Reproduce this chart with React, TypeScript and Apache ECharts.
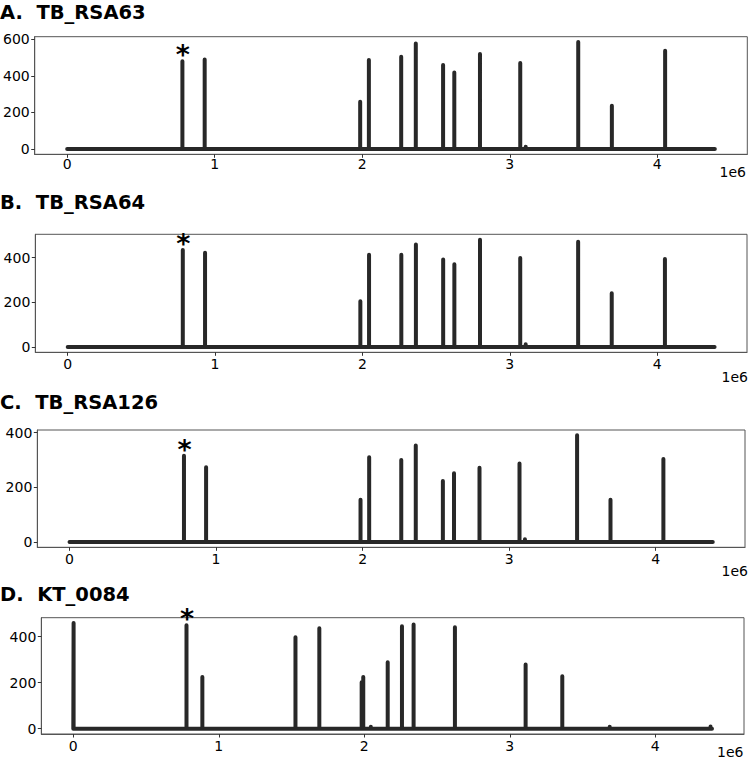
import React, { useEffect, useRef } from "react";
import * as echarts from "echarts";

// ---- data (positions in bp, heights = read depth) ----
const titles = ["A.\u00a0\u00a0TB_RSA63", "B.\u00a0\u00a0TB_RSA64", "C.\u00a0\u00a0TB_RSA126", "D.\u00a0\u00a0KT_0084"];
const positionsABC = [781000, 932000, 1986000, 2045000, 2264000, 2363000, 2548000, 2624000, 2798000, 3071000, 3108000, 3464000, 3692000, 4053000];
const heightsA = [480, 490, 258, 487, 505, 577, 459, 419, 519, 470, 12, 585, 236, 537];
const heightsB = [434, 421, 204, 412, 413, 458, 391, 370, 480, 398, 12, 471, 240, 393];
const heightsC = [315, 273, 154, 310, 300, 353, 223, 251, 271, 287, 10, 390, 154, 303];
const positionsD = [2000, 778000, 887000, 1527000, 1691000, 1982000, 1993000, 2045000, 2161000, 2259000, 2339000, 2623000, 3109000, 3361000, 3687000, 4380000];
const heightsD = [459, 449, 225, 397, 436, 202, 224, 8, 289, 445, 452, 440, 279, 228, 8, 10];
const genomeEnd = 4390000;
const markedPositionABC = 781000;
const markedPositionD = 778000;
const xTicks = [0, 1000000, 2000000, 3000000, 4000000];
const yTicksA = [0, 200, 400, 600];
const yTicksBCD = [0, 200, 400];
const xRange = [-220000, 4610000];
const yRangeA = [-29.25, 614.25];
const yRangeB = [-24, 504];
const yRangeC = [-19.5, 409.5];
const yRangeD = [-22.95, 481.95];

function buildLine(positions: number[], heights: number[]) {
  const pts: number[][] = [[0, 0]];
  positions.forEach((p, i) => {
    pts.push([p, 0], [p, heights[i]], [p, 0]);
  });
  pts.push([genomeEnd, 0]);
  return pts;
}

const panels = [
  { title: titles[0], pos: positionsABC, h: heightsA, mark: markedPositionABC, yRange: yRangeA, yTicks: yTicksA,
    grid: { left: 34.3, top: 36.7, width: 713, height: 117.6 }, titleTop: 2, xMargin: 3, e6: { x: 746, y: 164.5 } },
  { title: titles[1], pos: positionsABC, h: heightsB, mark: markedPositionABC, yRange: yRangeB, yTicks: yTicksBCD,
    grid: { left: 35.3, top: 234.3, width: 711.7, height: 118 }, titleTop: 192.5, xMargin: 5, e6: { x: 748, y: 370 } },
  { title: titles[2], pos: positionsABC, h: heightsC, mark: markedPositionABC, yRange: yRangeC, yTicks: yTicksBCD,
    grid: { left: 37.3, top: 430, width: 707.7, height: 117.3 }, titleTop: 392.5, xMargin: 5, e6: { x: 748, y: 564 } },
  { title: titles[3], pos: positionsD, h: heightsD, mark: markedPositionD, yRange: yRangeD, yTicks: yTicksBCD,
    grid: { left: 41.3, top: 617.7, width: 702.7, height: 116.3 }, titleTop: 584, xMargin: 5, e6: { x: 743.5, y: 744.5 } },
];

const FONT = "DejaVu Sans";
const LINE = "#282828";
const FRAME = "#555555";

export default function App() {
  const ref = useRef<HTMLDivElement>(null);
  useEffect(() => {
    if (!ref.current) return;
    const chart = echarts.init(ref.current, undefined, { renderer: "svg" });
    const option: any = {
      animation: false,
      backgroundColor: "#ffffff",
      title: panels.map((p) => ({
        text: p.title,
        left: 0,
        top: p.titleTop,
        padding: 0,
        textStyle: { fontFamily: FONT, fontWeight: "bold", fontSize: 19.5, color: "#000" },
      })),
      grid: panels.map((p) => ({
        left: p.grid.left, top: p.grid.top, width: p.grid.width, height: p.grid.height,
        show: true, borderColor: FRAME, borderWidth: 1, backgroundColor: "transparent",
      })),
      xAxis: panels.map((p, i) => ({
        type: "value", gridIndex: i, min: xRange[0], max: xRange[1],
        splitLine: { show: false },
        axisLine: { show: true, onZero: false, lineStyle: { color: FRAME, width: 1 } },
        axisTick: { show: true, length: 3.5, lineStyle: { color: "#333" }, customValues: xTicks },
        axisLabel: {
          show: true, customValues: xTicks, margin: p.xMargin,
          formatter: (v: number) => String(Math.round(v / 1e6)),
          fontFamily: FONT, fontSize: 14, color: "#000",
        },
      })),
      yAxis: panels.map((p, i) => ({
        type: "value", gridIndex: i, min: p.yRange[0], max: p.yRange[1],
        splitLine: { show: false },
        axisLine: { show: true, onZero: false, lineStyle: { color: FRAME, width: 1 } },
        axisTick: { show: true, length: 3.5, lineStyle: { color: "#333" }, customValues: p.yTicks },
        axisLabel: {
          show: true, customValues: p.yTicks, margin: 5,
          fontFamily: FONT, fontSize: 14, color: "#000",
        },
      })),
      series: panels.map((p, i) => {
        const idx = p.pos.indexOf(p.mark);
        return {
          type: "line", xAxisIndex: i, yAxisIndex: i,
          data: buildLine(p.pos, p.h),
          showSymbol: false, symbol: "none",
          lineStyle: { color: LINE, width: 4, cap: "round", join: "round" },
          clip: false,
          markPoint: {
            symbol: "circle", symbolSize: 0, silent: true,
            label: {
              show: true, formatter: "*", position: "inside", offset: [0.5, -6.5],
              fontFamily: FONT, fontWeight: "bold", fontSize: 27, color: "#000",
            },
            data: [{ coord: [p.mark, p.h[idx]] }],
          },
        };
      }),
      graphic: panels.map((p) => ({
        type: "text", x: p.e6.x, y: p.e6.y,
        style: { text: "1e6", align: "right", verticalAlign: "top", fontFamily: FONT, fontSize: 14, fill: "#000" },
      })),
    };
    chart.setOption(option);
    return () => chart.dispose();
  }, []);
  return (
    <div
      ref={ref}
      style={{ position: "fixed", left: 0, top: 0, width: 750, height: 768, background: "#fff" }}
    />
  );
}
